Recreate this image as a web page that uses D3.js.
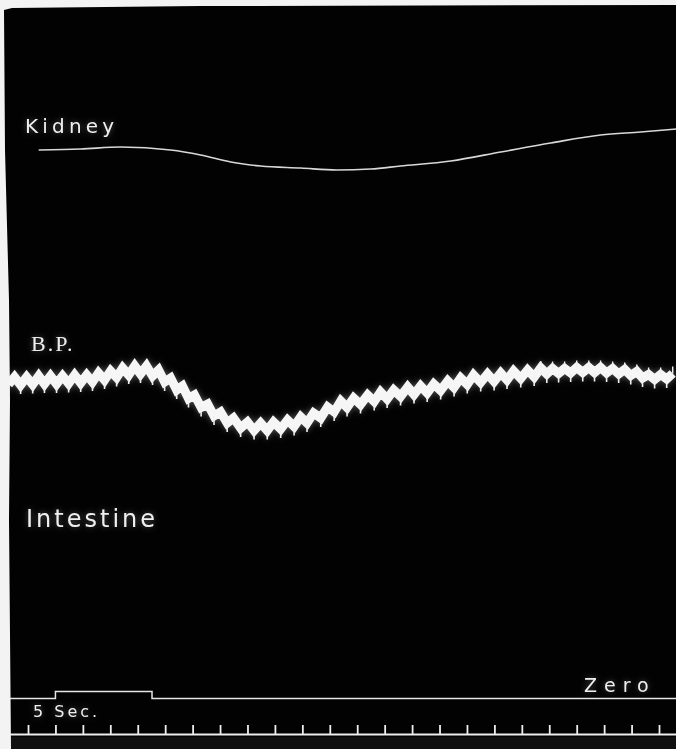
<!DOCTYPE html>
<html>
<head>
<meta charset="utf-8">
<script src="https://cdn.jsdelivr.net/npm/d3@7"></script>
<style>
  html, body { margin: 0; padding: 0; background: #000; }
  svg { display: block; }
</style>
</head>
<body>
<script>
// Kidney volume (arbitrary units) against time (s)
const kidneyTime   = [1.39, 2.92, 4.37, 6.20, 7.29, 8.39, 9.48, 10.94, 12.25, 13.49, 14.58, 16.41, 18.23, 20.05, 21.87, 23.33, 24.64];
const kidneyVolume = [5.00, 5.05, 5.15, 5.00, 4.75, 4.40, 4.20, 4.10, 4.00, 4.05, 4.20, 4.45, 4.90, 5.35, 5.75, 5.90, 6.05];

// Blood pressure (mm Hg): systolic peaks of each beat
const bpPeakTime = [0.51, 0.95, 1.39, 1.82, 2.26, 2.70, 3.14, 3.57, 4.01, 4.45, 4.89, 5.32, 5.76, 6.20, 6.63, 7.07,
  7.55, 8.02, 8.49, 9.00, 9.48, 9.95, 10.46, 10.94, 11.41, 11.92, 12.40, 12.87, 13.38, 13.85, 14.33, 14.84, 15.31,
  15.79, 16.30, 16.77, 17.24, 17.75, 18.23, 18.70, 19.21, 19.69,
  20.12, 20.56, 21.00, 21.44, 21.87, 22.31, 22.75, 23.19, 23.62, 24.06, 24.50];
const bpPeak = [128.0, 128.0, 128.4, 128.4, 128.4, 128.8, 128.8, 129.6, 130.4, 131.6, 132.4, 132.4, 130.8, 127.6, 124.4, 120.8,
  117.2, 114.0, 111.6, 110.0, 109.6, 110.0, 110.8, 112.0, 113.6, 116.0, 118.4, 119.6, 120.8, 122.0, 122.8, 124.0, 124.4,
  125.2, 126.4, 127.6, 128.8, 129.2, 129.6, 130.4, 130.8, 131.6,
  131.4, 131.4, 131.8, 131.8, 131.8, 131.4, 131.0, 130.2, 129.0, 129.0, 129.4];

// Blood pressure (mm Hg): diastolic troughs between beats
const bpTroughTime = [0.29, 0.73, 1.17, 1.60, 2.04, 2.48, 2.92, 3.35, 3.79, 4.23, 4.67, 5.10, 5.54, 5.98, 6.42, 6.85, 7.31,
  7.78, 8.26, 8.75, 9.24, 9.72, 10.21, 10.70, 11.17, 11.67, 12.16, 12.63, 13.12, 13.62, 14.09, 14.58, 15.07, 15.55,
  16.04, 16.53, 17.01, 17.50, 17.99, 18.46, 18.96, 19.45, 19.91,
  20.34, 20.78, 21.22, 21.65, 22.09, 22.53, 22.97, 23.40, 23.84, 24.28];
const bpTrough = [125.0, 124.8, 125.0, 125.2, 125.2, 125.4, 125.6, 126.0, 126.8, 127.8, 128.8, 129.2, 128.4, 126.0, 122.8, 119.4, 115.8,
  112.4, 109.6, 107.6, 106.6, 106.6, 107.2, 108.2, 109.6, 111.6, 114.0, 115.8, 117.0, 118.2, 119.2, 120.2, 121.0, 121.6,
  122.6, 123.8, 125.0, 125.8, 126.2, 126.8, 127.4, 128.0, 129.2,
  129.4, 129.6, 129.8, 129.8, 129.6, 129.2, 128.6, 127.6, 127.0, 127.2];

// Stimulus signal: 0 = off, 1 = on
const signalTime  = [0.30, 2.00, 2.00, 5.52, 5.52, 24.70];
const signalLevel = [0, 0, 1, 1, 0, 0];

// Time marker, one tick per second
const timeTicks = [1, 2, 3, 4, 5, 6, 7, 8, 9, 10, 11, 12, 13, 14, 15, 16, 17, 18, 19, 20, 21, 22, 23, 24];

// Trace labels
const labelText = ["Kidney", "B.P.", "Intestine", "5 Sec.", "Zero"];

const W = 676, H = 749;
const svg = d3.select("body").append("svg").attr("width", W).attr("height", H);

const defs = svg.append("defs");
const glow = defs.append("filter").attr("id", "soft").attr("x", "-20%").attr("y", "-50%").attr("width", "140%").attr("height", "200%");
glow.append("feGaussianBlur").attr("in", "SourceGraphic").attr("stdDeviation", 3).attr("result", "b");
glow.append("feComponentTransfer").attr("in", "b").attr("result", "bf")
  .append("feFuncA").attr("type", "linear").attr("slope", 0.35);
const m = glow.append("feMerge");
m.append("feMergeNode").attr("in", "bf");
m.append("feMergeNode").attr("in", "SourceGraphic");

const ink = defs.append("filter").attr("id", "ink");
ink.append("feGaussianBlur").attr("stdDeviation", 0.5);

// Smoked paper
svg.append("rect").attr("width", W).attr("height", H).attr("fill", "#020202");
svg.append("rect").attr("x", 0).attr("y", 737).attr("width", W).attr("height", 12).attr("fill", "#101010");

// Scales
const x = d3.scaleLinear().domain([0, 24]).range([0.57, 659]);
const yBP = d3.scaleLinear().domain([0, 140]).range([697, 347]);
const yKidney = d3.scaleLinear().domain([0, 10]).range([250, 50]);
const ySignal = d3.scaleLinear().domain([0, 1]).range([698.5, 691.5]);

// Kidney volume trace
const kidney = kidneyTime.map((t, i) => ({ t, v: kidneyVolume[i] }));
svg.append("path")
  .datum(kidney)
  .attr("fill", "none")
  .attr("stroke", "#d8d8d8")
  .attr("stroke-width", 1.6)
  .attr("filter", "url(#ink)")
  .attr("d", d3.line().x(d => x(d.t)).y(d => yKidney(d.v)).curve(d3.curveMonotoneX));

// Blood pressure trace: peaks and troughs in time order
const bp = bpPeakTime.map((t, i) => ({ t, v: bpPeak[i], kind: "peak" }))
  .concat(bpTroughTime.map((t, i) => ({ t, v: bpTrough[i], kind: "trough" })))
  .sort((a, b) => a.t - b.t);

const bpG = svg.append("g").attr("filter", "url(#soft)");
bpG.append("path")
  .datum(bp)
  .attr("fill", "none")
  .attr("stroke", "#f6f6f6")
  .attr("stroke-width", 9)
  .attr("stroke-linejoin", "miter")
  .attr("stroke-miterlimit", 3)
  .attr("d", d3.line().x(d => x(d.t)).y(d => yBP(d.v)));

// pulse spikes below each trough
bpG.selectAll("line.spike")
  .data(bp.filter(d => d.kind === "trough"))
  .join("line")
  .attr("class", "spike")
  .attr("x1", d => x(d.t)).attr("x2", d => x(d.t))
  .attr("y1", d => yBP(d.v)).attr("y2", d => yBP(d.v) + 9)
  .attr("stroke", "#f0f0f0").attr("stroke-width", 1.6);

// the late, flatter stretch of the trace also shows spikes above the peaks
bpG.selectAll("line.spikeUp")
  .data(bp.filter(d => d.kind === "peak" && d.t > 19.5))
  .join("line")
  .attr("class", "spikeUp")
  .attr("x1", d => x(d.t)).attr("x2", d => x(d.t))
  .attr("y1", d => yBP(d.v)).attr("y2", d => yBP(d.v) - 7)
  .attr("stroke", "#f0f0f0").attr("stroke-width", 1.4);

// Signal / zero line
const signal = signalTime.map((t, i) => ({ t, v: signalLevel[i] }));
svg.append("path")
  .datum(signal)
  .attr("fill", "none")
  .attr("stroke", "#e6e6e6")
  .attr("stroke-width", 1.5)
  .attr("d", d3.line().x(d => x(d.t)).y(d => ySignal(d.v)));

// Time marker line with second ticks
const timeAxis = d3.axisTop(x).tickValues(timeTicks).tickSize(9).tickSizeOuter(0).tickFormat("");
const axG = svg.append("g").attr("transform", "translate(0,734)").call(timeAxis);
axG.select(".domain").remove();
axG.selectAll(".tick line").attr("stroke", "#eeeeee").attr("stroke-width", 1.8);
svg.append("line").attr("x1", 8).attr("x2", W).attr("y1", 734.5).attr("y2", 734.5)
  .attr("stroke", "#eeeeee").attr("stroke-width", 1.8);

// Labels
const lab = svg.append("g").attr("fill", "#efefef").attr("filter", "url(#soft)");
lab.append("text").attr("x", 25).attr("y", 133).attr("font-family", "DejaVu Sans")
  .attr("font-size", 20).attr("letter-spacing", 4.2).text(labelText[0]);
lab.append("text").attr("x", 31).attr("y", 351).attr("font-family", "Liberation Serif")
  .attr("font-size", 22).attr("letter-spacing", 2).text(labelText[1]);
lab.append("text").attr("x", 26).attr("y", 527).attr("font-family", "DejaVu Sans")
  .attr("font-size", 24).attr("letter-spacing", 3).text(labelText[2]);
lab.append("text").attr("x", 33).attr("y", 717).attr("font-family", "DejaVu Sans")
  .attr("font-size", 16).attr("letter-spacing", 3).text(labelText[3]);
lab.append("text").attr("x", 584).attr("y", 692).attr("font-family", "DejaVu Sans")
  .attr("font-size", 19).attr("letter-spacing", 7).text(labelText[4]);

// Paper edge along the top and left
svg.append("path")
  .attr("fill", "#f3f3f3")
  .attr("d", "M0,0 L676,0 L676,5 L200,6 L12,8 L4,10 L5,150 L9,300 L10,400 L9,520 L11,749 L0,749 Z");
</script>
</body>
</html>
